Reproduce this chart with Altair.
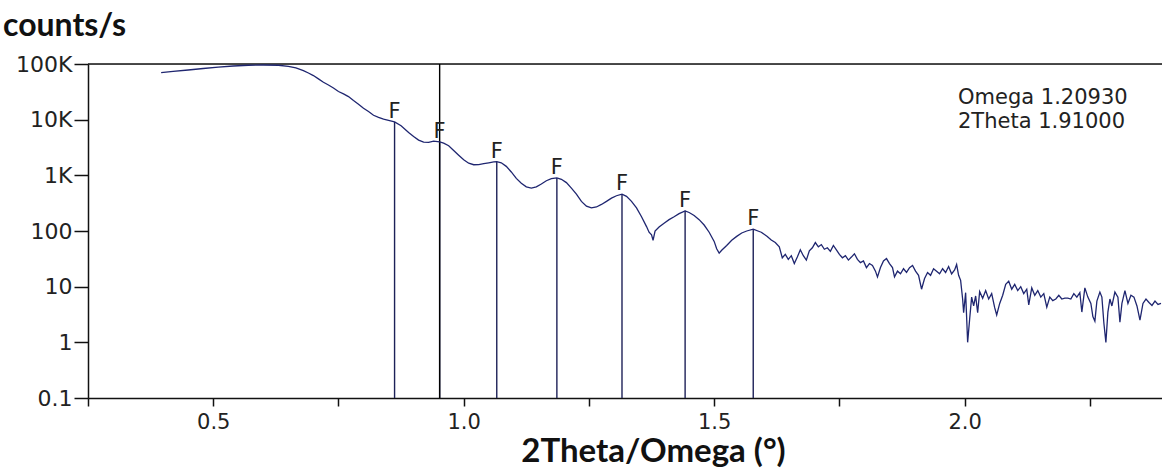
import altair as alt
import pandas as pd

# Measured scan: 2Theta/Omega angle (deg) and detector intensity (counts/s)
angle = [
    0.396, 0.42, 0.45, 0.48, 0.51, 0.54, 0.57, 0.60, 0.63, 0.65, 0.665, 0.68, 0.69, 0.70,
    0.71, 0.72, 0.73, 0.74, 0.75, 0.76, 0.77, 0.78, 0.79, 0.80, 0.81, 0.82, 0.83, 0.84,
    0.85, 0.862, 0.875, 0.89, 0.90, 0.91, 0.92, 0.93, 0.94, 0.952, 0.96, 0.97, 0.98, 0.99,
    1.00, 1.01, 1.02, 1.03, 1.04, 1.05, 1.06, 1.066, 1.075, 1.085, 1.095, 1.105, 1.115,
    1.125, 1.135, 1.145, 1.155, 1.165, 1.175, 1.186, 1.195, 1.205, 1.215, 1.225, 1.235,
    1.245, 1.255, 1.265, 1.275, 1.285, 1.295, 1.305, 1.316, 1.325, 1.335, 1.345, 1.355,
    1.365, 1.37, 1.375, 1.378, 1.382, 1.39, 1.40, 1.41, 1.42, 1.43, 1.442, 1.45, 1.46,
    1.47, 1.48, 1.49, 1.50, 1.505, 1.51, 1.515, 1.525, 1.535, 1.545, 1.555, 1.565, 1.578,
    1.59, 1.594, 1.606, 1.614, 1.622, 1.63, 1.636, 1.642, 1.648, 1.654, 1.66, 1.666,
    1.672, 1.678, 1.684, 1.69, 1.696, 1.702, 1.708, 1.714, 1.72, 1.726, 1.732, 1.738,
    1.744, 1.75, 1.756, 1.762, 1.768, 1.774, 1.78, 1.786, 1.792, 1.798, 1.804, 1.81,
    1.816, 1.822, 1.826, 1.832, 1.838, 1.844, 1.85, 1.856, 1.86, 1.866, 1.872, 1.878,
    1.884, 1.89, 1.896, 1.902, 1.908, 1.914, 1.92, 1.926, 1.932, 1.938, 1.944, 1.95,
    1.956, 1.962, 1.968, 1.974, 1.98, 1.984, 1.988, 1.992, 1.996, 1.998, 2.002, 2.006,
    2.01, 2.014, 2.018, 2.022, 2.026, 2.03, 2.036, 2.042, 2.048, 2.054, 2.06, 2.064,
    2.07, 2.076, 2.082, 2.088, 2.094, 2.10, 2.106, 2.112, 2.118, 2.124, 2.128, 2.134,
    2.14, 2.146, 2.152, 2.158, 2.164, 2.17, 2.176, 2.182, 2.188, 2.194, 2.20, 2.206,
    2.212, 2.218, 2.224, 2.23, 2.234, 2.24, 2.246, 2.252, 2.256, 2.26, 2.264, 2.27,
    2.274, 2.278, 2.282, 2.286, 2.29, 2.294, 2.30, 2.306, 2.31, 2.314, 2.32, 2.326,
    2.332, 2.338, 2.344, 2.35, 2.356, 2.362, 2.368, 2.374, 2.38, 2.386, 2.392,
]
counts = [
    70000, 74000, 78000, 83000, 88000, 92000, 95000, 96000, 95000, 91000, 85000, 76000, 69000, 62000,
    54000, 47000, 42000, 37000, 32000, 29000, 26000, 22000, 19000, 16000, 14000, 12000, 11000, 10200,
    9700, 9100, 7800, 5900, 5000, 4300, 3950, 3900, 4100, 4000, 3800, 3400, 2800, 2300,
    1900, 1650, 1550, 1560, 1620, 1680, 1740, 1760, 1680, 1450, 1150, 880, 720,
    620, 590, 620, 700, 800, 870, 900, 850, 740, 590, 460, 340,
    280, 260, 270, 300, 340, 390, 430, 460, 420, 340, 260, 180,
    120, 95, 85, 68, 100, 118, 138, 160, 180, 205, 230, 215, 190,
    160, 128, 95, 65, 48, 40, 45, 55, 68, 80, 92, 100, 108,
    98, 95, 80, 69, 62, 52, 33, 38, 31, 36, 26, 34,
    46, 36, 30, 44, 50, 62, 52, 57, 47, 50, 43, 55,
    46, 38, 33, 36, 30, 34, 39, 31, 27, 29, 22, 26,
    24, 19, 15, 22, 29, 32, 26, 22, 15, 19, 17, 21,
    18, 22, 24, 19, 16, 9, 14, 18, 16, 21, 19, 17,
    21, 18, 23, 17, 20, 25, 16, 13, 6, 3.4, 7.8, 1.0,
    2.6, 6.5, 4.5, 6.8, 3.4, 8.2, 6.2, 8.5, 6, 7.5, 4.2, 3.1,
    5, 7, 11, 12.5, 9, 11, 8.5, 10, 7.5, 9, 4.7, 9.5,
    7, 8.5, 6.5, 7.5, 4.3, 6.5, 5.6, 6, 7, 6, 6.2, 6.2,
    6, 7.5, 6.5, 7.8, 3.5, 9.5, 6.5, 5, 2.9, 2.4, 5.5, 8,
    6.5, 2.2, 1.0, 3.5, 6, 4.5, 8, 6.5, 2.3, 5, 8.5, 5,
    7, 6.5, 4.5, 2.5, 5, 6, 5.2, 4.6, 5.5, 4.8, 5,
]

# Fringe maxima marked "F"
fringe_angle = [0.862, 0.952, 1.066, 1.186, 1.316, 1.442, 1.578]
fringe_counts = [9100, 4000, 1760, 900, 460, 230, 108]

# Cursor position and its readout
cursor_angle = [0.952]
readout = ["Omega 1.20930", "2Theta 1.91000"]

y_ticks = [0.1, 1, 10, 100, 1000, 10000, 100000]
y_tick_labels = ["0.1", "1", "10", "100", "1K", "10K", "100K"]
x_ticks = [0.25, 0.5, 0.75, 1.0, 1.25, 1.5, 1.75, 2.0, 2.25]

CURVE = "#1f2670"
FRINGE = "#1d2158"
LABEL_FONT = "DejaVu Sans"
TITLE_FONT = "Lato"

scan = pd.DataFrame({"angle": angle, "counts": counts})
fringes = pd.DataFrame({"angle": fringe_angle, "counts": fringe_counts})
cursor = pd.DataFrame({"angle": cursor_angle})
readout_df = pd.DataFrame({"text": ["\n".join(readout)]})
unit_df = pd.DataFrame({"text": ["counts/s"]})

x_scale = alt.Scale(domain=[0.25, 2.394], nice=False, zero=False)
y_scale = alt.Scale(type="log", domain=[0.1, 100000], nice=False)

label_map = "{" + ", ".join(f"'{v}': '{t}'" for v, t in zip(y_ticks, y_tick_labels)) + "}"

x_axis = alt.Axis(
    values=x_ticks,
    labelExpr="(round(datum.value * 4) % 2 == 0) ? format(datum.value, '.1f') : ''",
    title="2Theta/Omega (°)",
    titleFont=TITLE_FONT,
    titleFontSize=33,
    titleFontWeight="bold",
    titleColor="#111",
    titleX=565,
    titleY=63,
    titleBaseline="alphabetic",
    titleAlign="center",
    labelFont=LABEL_FONT,
    labelFontSize=21,
    labelColor="#222",
    labelPadding=5,
    tickSize=8,
    tickColor="#111",
    tickWidth=1.5,
    domainColor="#111",
    domainWidth=1.5,
    grid=False,
)
y_axis = alt.Axis(
    values=y_ticks,
    labelExpr=label_map + "[datum.value + '']",
    title=None,
    labelFont=LABEL_FONT,
    labelFontSize=22,
    labelColor="#222",
    labelPadding=2,
    tickSize=14,
    tickColor="#111",
    tickWidth=1.5,
    domainColor="#111",
    domainWidth=1.5,
    grid=False,
)

curve = alt.Chart(scan).mark_line(color=CURVE, strokeWidth=1.3, clip=True).encode(
    x=alt.X("angle:Q", scale=x_scale, axis=x_axis),
    y=alt.Y("counts:Q", scale=y_scale, axis=y_axis),
)

top_border = alt.Chart(cursor).mark_rule(color="#111", strokeWidth=1.5).encode(
    y=alt.datum(100000)
)

cursor_line = alt.Chart(cursor).mark_rule(color="#000", strokeWidth=1.4).encode(
    x="angle:Q"
)

fringe_lines = alt.Chart(fringes).mark_rule(color=FRINGE, strokeWidth=1.4).encode(
    x="angle:Q",
    y=alt.Y("counts:Q"),
    y2=alt.datum(0.1),
)

fringe_labels = alt.Chart(fringes).mark_text(
    text="F", font=LABEL_FONT, fontSize=21, color="#222", baseline="alphabetic", dy=-4
).encode(x="angle:Q", y="counts:Q")

readout_text = alt.Chart(readout_df).mark_text(
    font=LABEL_FONT,
    fontSize=21,
    color="#222",
    align="left",
    baseline="alphabetic",
    lineBreak="\n",
    lineHeight=24,
).encode(
    text="text:N",
    x=alt.value(870),
    y=alt.value(40),
)

unit_label = alt.Chart(unit_df).mark_text(
    font=TITLE_FONT,
    fontSize=32,
    fontWeight="bold",
    color="#111",
    align="left",
    baseline="alphabetic",
).encode(
    text="text:N",
    x=alt.value(-85),
    y=alt.value(-28),
)

chart = (
    alt.layer(top_border, fringe_lines, cursor_line, curve, fringe_labels, readout_text, unit_label)
    .properties(
        width=1074,
        height=334,
        padding={"left": 88, "top": 64, "right": 0, "bottom": 70},
        autosize="none",
    )
    .configure_view(stroke=None)
    .configure(background="white")
)

chart.save("out.html", embed_options={"renderer": "svg", "actions": False})
